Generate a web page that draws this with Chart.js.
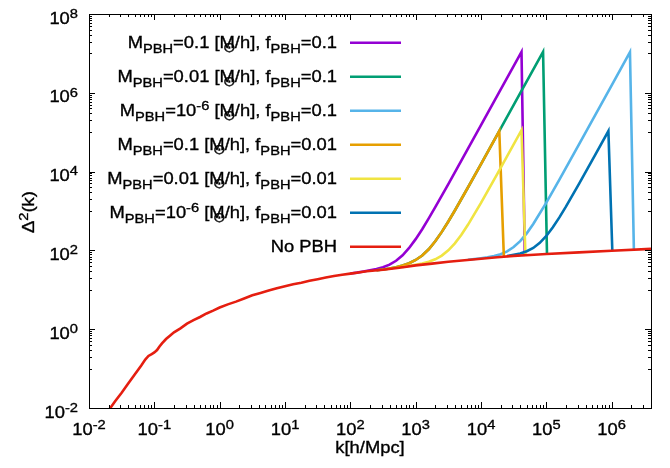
<!DOCTYPE html>
<html><head><meta charset="utf-8">
<script src="https://cdn.jsdelivr.net/npm/chart.js@4.4.0/dist/chart.umd.min.js"></script>
<style>html,body{margin:0;padding:0;background:#fff;}#wrap{width:670px;height:468px;position:relative;}</style>
</head><body><div id="wrap"><canvas id="c"></canvas></div>
<script>
// ---- data (k in h/Mpc, Delta^2(k)) ----
const kNoPBH = [0.0178,0.0212,0.0251,0.0316,0.0398,0.0501,0.0631,0.0726,0.0813,0.0912,0.1,0.110,0.120,0.131,0.151,0.175,0.200,0.251,0.316,0.398,0.501,0.631,0.794,
  1,1.334,1.778,2.371,3.162,4.217,5.623,7.499,10,13.34,17.78,23.71,31.62,42.17,56.23,74.99,100,133.4,177.8,237.1,316.2,562.3,1000,1778,3162,5623,10000,17783,31623,56234,100000,316228,1000000,4000000];
const dNoPBH = [0.0068,0.0100,0.0148,0.0245,0.0417,0.0708,0.120,0.170,0.209,0.234,0.257,0.295,0.363,0.437,0.562,0.692,0.832,1.047,1.38,1.70,2.04,2.51,2.95,
  3.55,4.27,5.01,6.03,7.24,8.32,9.55,10.96,12.30,13.80,15.14,16.98,18.62,20.42,22.39,23.99,25.70,27.54,29.51,30.90,32.36,36.31,41.69,46.24,51.29,56.23,61.66,66.83,72.44,76.74,81.28,89.13,97.72,109.6];

const kM01f01 = [100,125.9,158.5,199.5,251.2,316.2,398.1,501.2,631.0,794.3,1000,1259,1585,1995,2512,3162,5623,10000,19953,41687,46774];
const dM01f01 = [25.85,27.3,29.3,31.3,33.6,37.2,43.5,54.6,75.3,115.3,193,345,648,1249,2448,4837,26970,151420,1202000,10960000,75.3];

const kM001f01 = [251.2,316.2,398.1,501.2,631.0,794.3,1000,1259,1585,1995,2512,3162,3981,6310,10000,19953,39811,89125,102329];
const dM001f01 = [31.4,32.9,34.9,37.5,41.2,47.2,57.2,74.3,107,170,294.7,541,1030,3947,15550,123095,977300,10960000,81.5];

const kM1e6f01 = [6310,10000,12589,15849,19953,25119,31623,39811,50119,63096,100000,158489,316228,1000000,1905461,2187762];
const dM1e6f01 = [57.7,63.3,66.8,72.0,80.2,94.6,121.4,171.8,271,467,1630,6251,49067,1549000,10720000,104];

const kM01f001 = [251.2,316.2,398.1,501.2,631.0,794.3,1000,1259,1585,1995,2512,3162,3981,6310,10000,19055,22387];
const dM01f001 = [31.4,32.9,34.9,37.5,41.2,47.2,57.2,74.3,107,170,294.7,541,1030,3947,15550,107220,69.0];

const kM001f001 = [631.0,1000,1259,1585,1995,2512,3162,3981,5012,6310,10000,17783,41687,47863];
const dM001f001 = [37.7,43.2,46.5,51.5,59.5,73.7,100.3,150.9,250,446,1611,8776,112270,75.5];

const kM1e6f001 = [25119,39811,50119,63096,79433,100000,125893,158489,199526,316228,562341,891251,1023293];
const dM1e6f001 = [72.5,83.7,95.0,115.6,155.3,232.7,385,688,1289,4875,27010,107250,97.7];

const seriesLabels = [
  'M_{PBH}=0.1 [M_{⊙}/h], f_{PBH}=0.1',
  'M_{PBH}=0.01 [M_{⊙}/h], f_{PBH}=0.1',
  'M_{PBH}=10^{-6} [M_{⊙}/h], f_{PBH}=0.1',
  'M_{PBH}=0.1 [M_{⊙}/h], f_{PBH}=0.01',
  'M_{PBH}=0.01 [M_{⊙}/h], f_{PBH}=0.01',
  'M_{PBH}=10^{-6} [M_{⊙}/h], f_{PBH}=0.01',
  'No PBH'
];
const seriesColors = ['#9400d3','#009e73','#56b4e9','#e69f00','#f0e442','#0072b2','#e51e10'];
const xTickExps = [-2,-1,0,1,2,3,4,5,6];
const yTickExps = [-2,0,2,4,6,8];
const xTitle = 'k[h/Mpc]';
const yTitle = 'Δ^{2}(k)';

// ---- build datasets ----
const kArrs = [kM01f01,kM001f01,kM1e6f01,kM01f001,kM001f001,kM1e6f001,kNoPBH];
const dArrs = [dM01f01,dM001f01,dM1e6f01,dM01f001,dM001f001,dM1e6f001,dNoPBH];
const datasets = kArrs.map((ks,i)=>({
  label: seriesLabels[i],
  data: ks.map((k,j)=>({x:k,y:dArrs[i][j]})),
  borderColor: seriesColors[i],
  backgroundColor: seriesColors[i],
  borderWidth: 2.6,
  pointRadius: 0,
  tension: 0,
  fill: false,
  clip: 0,
  order: 6 - i
}));

// ---- rich text helper (gnuplot-like sub/superscripts) ----
const FS = 17, SX = 1.08, FAM = '"Liberation Sans", Arial, sans-serif';
function parts(s){
  const out=[]; let i=0, buf='';
  while(i<s.length){
    const c=s[i];
    if((c==='_'||c==='^') && s[i+1]==='{'){
      if(buf){out.push({t:buf,m:0});buf='';}
      const j=s.indexOf('}',i);
      out.push({t:s.slice(i+2,j), m: c==='_'?-1:1});
      i=j+1;
    } else {buf+=c;i++;}
  }
  if(buf) out.push({t:buf,m:0});
  return out;
}
function drawRich(ctx, s, x, y, align){
  const ps = parts(s); let w=0;
  ps.forEach(p=>{
    p.fs = p.m ? FS*0.8 : FS;
    ctx.font = p.fs+'px '+FAM;
    p.w = ctx.measureText(p.t).width*SX;
    p.adv = (p.t==='⊙') ? 0 : p.w;
    w += p.adv;
  });
  let cx = align==='right' ? x-w : (align==='center' ? x-w/2 : x);
  ps.forEach(p=>{
    ctx.font = p.fs+'px '+FAM;
    let dy = p.m<0 ? FS*0.33 : (p.m>0 ? -FS*0.33 : 0);
    let px = cx;
    if(p.t==='⊙'){ px = cx - p.w + 1; dy = FS*0.27; }
    ctx.save(); ctx.translate(px, y+dy); ctx.scale(SX,1);
    ctx.textAlign='left'; ctx.textBaseline='alphabetic';
    ctx.lineWidth=0.35; ctx.strokeStyle=ctx.fillStyle;
    ctx.fillText(p.t,0,0); ctx.strokeText(p.t,0,0); ctx.restore();
    cx += p.adv;
  });
}

const framePlugin = {
  id:'frame',
  afterDraw(chart){
    const ctx = chart.ctx, a = chart.chartArea, xs = chart.scales.x, ys = chart.scales.y;
    ctx.save();
    ctx.strokeStyle='#000'; ctx.lineWidth=1; ctx.fillStyle='#000';
    ctx.strokeRect(Math.round(a.left)+0.5, Math.round(a.top)+0.5, Math.round(a.right-a.left), Math.round(a.bottom-a.top));
    ctx.beginPath();
    for(let n=-2;n<=6;n++){
      for(let m=1;m<=9;m++){
        const v=m*Math.pow(10,n);
        if(v<xs.min*0.999||v>xs.max*1.001) continue;
        const px=Math.round(xs.getPixelForValue(v))+0.5;
        const L = m===1?6:3;
        ctx.moveTo(px,a.bottom); ctx.lineTo(px,a.bottom-L);
        ctx.moveTo(px,a.top); ctx.lineTo(px,a.top+L);
      }
    }
    for(let n=-2;n<=8;n++){
      const even = (n%2===0);
      for(let m=1;m<=9;m++){
        if(even && m>1) continue;
        const v=m*Math.pow(10,n);
        if(v<ys.min*0.999||v>ys.max*1.001) continue;
        const py=Math.round(ys.getPixelForValue(v))+0.5;
        const L = even?6:3;
        ctx.moveTo(a.left,py); ctx.lineTo(a.left+L,py);
        ctx.moveTo(a.right,py); ctx.lineTo(a.right-L,py);
      }
    }
    ctx.stroke();
    xTickExps.forEach(n=>{
      drawRich(ctx,'10^{'+n+'}', xs.getPixelForValue(Math.pow(10,n)), a.bottom+27, 'center');
    });
    yTickExps.forEach(n=>{
      drawRich(ctx,'10^{'+n+'}', a.left-11, ys.getPixelForValue(Math.pow(10,n))+9.5, 'right');
    });
    drawRich(ctx, xTitle, (a.left+a.right)/2, a.bottom+45, 'center');
    ctx.save(); ctx.translate(34,(a.top+a.bottom)/2+1); ctx.rotate(-Math.PI/2);
    drawRich(ctx, yTitle, 0, 0, 'center'); ctx.restore();
    seriesLabels.forEach((lab,i)=>{
      const ly = 42.7 + 34*i;
      drawRich(ctx, lab, 337, ly+5, 'right');
      ctx.beginPath(); ctx.strokeStyle=seriesColors[i]; ctx.lineWidth=2.6;
      ctx.moveTo(350,ly); ctx.lineTo(401,ly); ctx.stroke();
    });
    ctx.restore();
  }
};

new Chart(document.getElementById('c'), {
  type:'line',
  data:{datasets},
  options:{
    responsive:true, maintainAspectRatio:false, animation:false,
    layout:{padding:{left:0,right:19,top:14,bottom:0}},
    plugins:{legend:{display:false},tooltip:{enabled:false}},
    scales:{
      x:{type:'logarithmic',min:0.01,max:4e6,grid:{display:false},border:{display:false},
         ticks:{display:false},afterFit(s){s.height=60;}},
      y:{type:'logarithmic',min:0.01,max:1e8,grid:{display:false},border:{display:false},
         ticks:{display:false},afterFit(s){s.width=89;}}
    }
  },
  plugins:[framePlugin]
});
</script></body></html>
